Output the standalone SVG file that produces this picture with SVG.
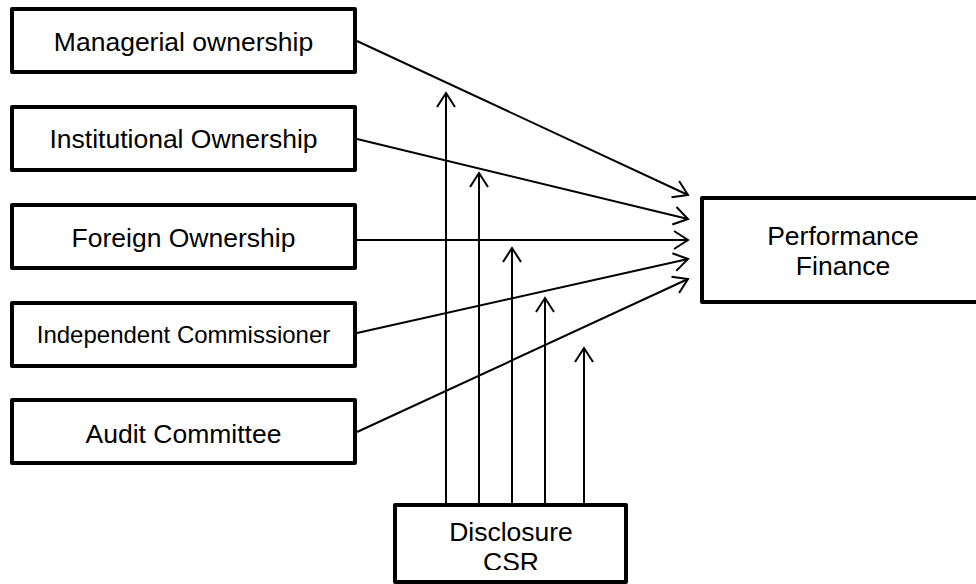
<svg xmlns="http://www.w3.org/2000/svg" width="976" height="584" viewBox="0 0 976 584">
<style>
.box{fill:#fff;stroke:#000;stroke-width:4;stroke-linejoin:round}
.t{font-family:"Liberation Sans",Arial,sans-serif;font-size:26.5px;fill:#000;text-anchor:middle}
.t2{font-size:24px}
.c{stroke:#000;stroke-width:2;fill:none}
</style>
<defs>
<marker id="ah" markerUnits="userSpaceOnUse" viewBox="-16 -11 18 22" refX="0" refY="0" markerWidth="18" markerHeight="22" orient="auto" overflow="visible">
<path d="M-14,-9 L0,0 L-14,9" fill="none" stroke="#000" stroke-width="2"/>
</marker>
<clipPath id="clipB"><rect x="380" y="500" width="260" height="70"/></clipPath>
</defs>
<rect width="976" height="584" fill="#fff"/>
<g id="connectors">
<line class="c" x1="357" y1="41" x2="688" y2="195" marker-end="url(#ah)"/>
<line class="c" x1="357" y1="139" x2="688" y2="219" marker-end="url(#ah)"/>
<line class="c" x1="357" y1="240" x2="688" y2="240" marker-end="url(#ah)"/>
<line class="c" x1="357" y1="333" x2="688" y2="259" marker-end="url(#ah)"/>
<line class="c" x1="357" y1="432" x2="688" y2="279" marker-end="url(#ah)"/>
<line class="c" x1="446" y1="503" x2="446" y2="93" marker-end="url(#ah)"/>
<line class="c" x1="479" y1="503" x2="479" y2="173" marker-end="url(#ah)"/>
<line class="c" x1="512" y1="503" x2="512" y2="248" marker-end="url(#ah)"/>
<line class="c" x1="545" y1="503" x2="545" y2="298" marker-end="url(#ah)"/>
<line class="c" x1="584" y1="503" x2="584" y2="348" marker-end="url(#ah)"/>
</g>
<g id="n-managerial">
<rect class="box" x="12" y="9" width="343" height="63"/>
<text class="t" x="183.5" y="51">Managerial ownership</text>
</g>
<g id="n-institutional">
<rect class="box" x="12" y="107" width="343" height="63"/>
<text class="t" x="183.5" y="148">Institutional Ownership</text>
</g>
<g id="n-foreign">
<rect class="box" x="12" y="205" width="343" height="63"/>
<text class="t" x="183.5" y="247">Foreign Ownership</text>
</g>
<g id="n-independent">
<rect class="box" x="12" y="303" width="343" height="63"/>
<text class="t t2" x="183.5" y="343">Independent Commissioner</text>
</g>
<g id="n-audit">
<rect class="box" x="12" y="400" width="343" height="63"/>
<text class="t" x="183.5" y="443">Audit Committee</text>
</g>
<g id="n-performance">
<rect class="box" x="702" y="198" width="284" height="104"/>
<text class="t" x="843" y="245">Performance</text>
<text class="t" x="843" y="275">Finance</text>
</g>
<g id="n-disclosure">
<rect class="box" x="395" y="505" width="231" height="77"/>
<text class="t" x="511" y="541">Disclosure</text>
<text class="t" x="511" y="571" clip-path="url(#clipB)">CSR</text>
</g>
</svg>
